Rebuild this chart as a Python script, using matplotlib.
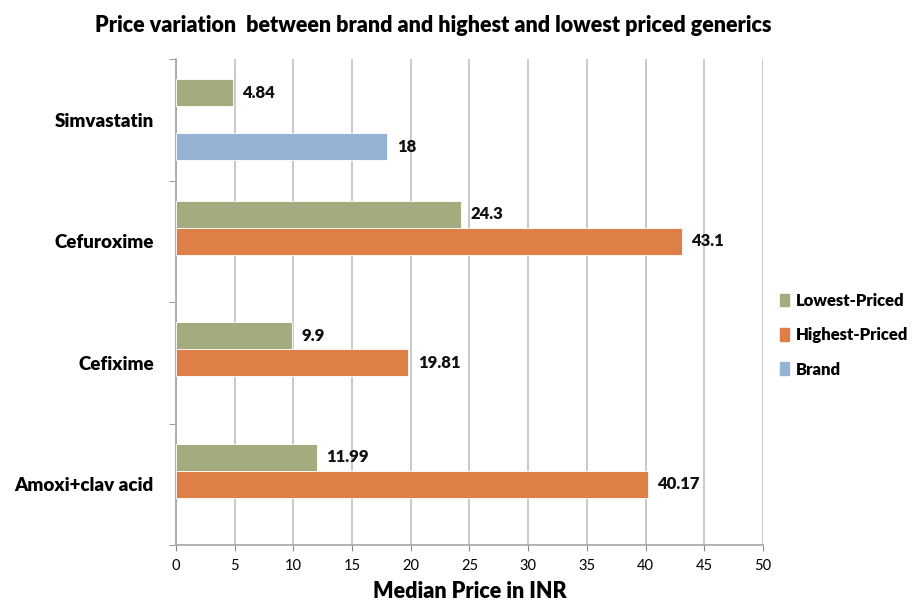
import numpy as np
import matplotlib.pyplot as plt
from matplotlib.patches import Patch

drugs = ['Amoxi+clav acid', 'Cefixime', 'Cefuroxime', 'Simvastatin']
lowest = [11.99, 9.9, 24.3, 4.84]
highest = [40.17, 19.81, 43.1, None]
brand = [None, None, None, 18]

series = [('Lowest-Priced', lowest, '#A4AB7F'),
          ('Highest-Priced', highest, '#DE7F47'),
          ('Brand', brand, '#94B3D5')]

font = ['Lato', 'DejaVu Sans']
plt.rcParams['font.family'] = font

fig = plt.figure(figsize=(9.21, 6.04), dpi=100)
ax = fig.add_axes([0.191, 0.0977, 0.6374, 0.8043])

h = 0.222
offsets = [h, 0, -h]
y = np.arange(len(drugs))
for (name, vals, col), off in zip(series, offsets):
    for yi, v in zip(y, vals):
        if v is None:
            continue
        ax.barh(yi + off, v, height=h, color=col, edgecolor='white', lw=0.6, zorder=3)
        ax.text(v + 0.8, yi + off, '%g' % v, va='center', ha='left',
                fontsize=12, fontweight='heavy', color='#111111')

ax.set_xlim(0, 50)
ax.set_ylim(-0.5, len(drugs) - 0.5)
ax.set_xticks(np.arange(0, 51, 5))
ax.set_yticks(y)
ax.set_yticklabels(drugs, fontsize=13.5, fontweight='heavy')
ax.set_yticks(np.arange(-0.5, len(drugs), 1), minor=True)
ax.tick_params(axis='y', which='major', length=0, pad=16)
ax.tick_params(axis='y', which='minor', length=5, color='#8c8c8c')
ax.tick_params(axis='x', length=4, color='#8c8c8c', labelsize=10.5, pad=6)
ax.grid(axis='x', color='#bfbfbf', lw=1.2, zorder=0)
for s in ['top', 'right']:
    ax.spines[s].set_visible(False)
for s in ['left', 'bottom']:
    ax.spines[s].set_color('#a6a6a6')
    ax.spines[s].set_linewidth(1.2)

ax.set_xlabel('Median Price in INR', fontsize=15.5, fontweight='heavy', labelpad=6)
fig.suptitle('Price variation  between brand and highest and lowest priced generics',
             x=0.47, y=0.975, fontsize=15.5, fontweight='heavy')

handles = [Patch(color=c, label=n) for n, _, c in series]
fig.legend(handles=handles, loc='center left', bbox_to_anchor=(0.847, 0.445),
           frameon=False, borderpad=0, borderaxespad=0,
           handlelength=0.55, handleheight=0.8, handletextpad=0.4,
           labelspacing=1.1, prop={'weight': 'heavy', 'size': 12})

fig.savefig('out.png', dpi=100)
